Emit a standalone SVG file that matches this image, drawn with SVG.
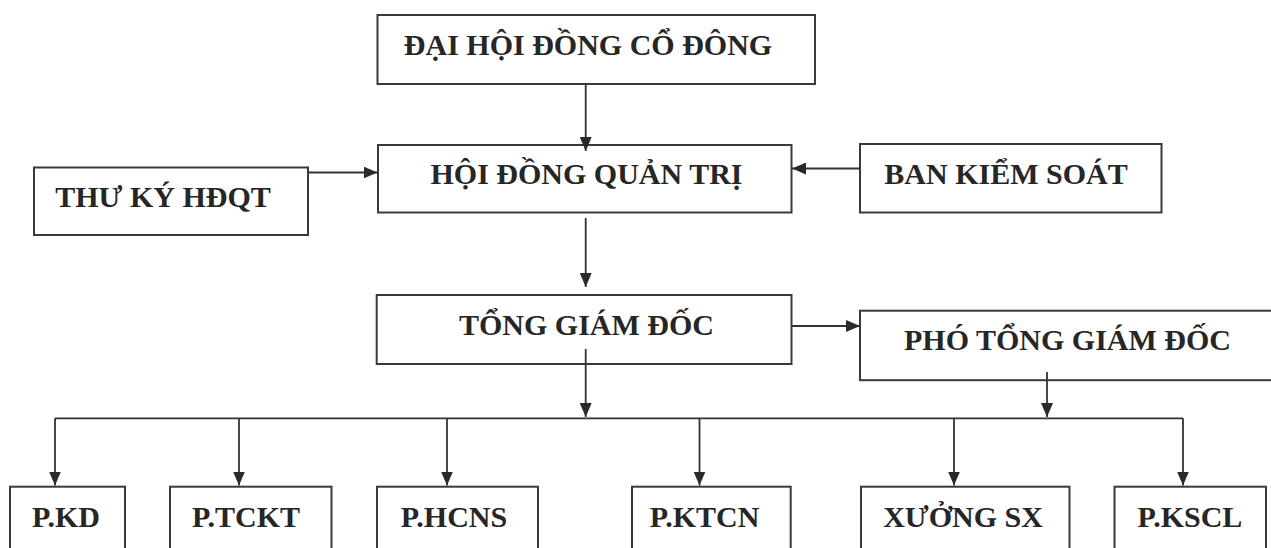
<svg xmlns="http://www.w3.org/2000/svg" width="1271" height="548" viewBox="0 0 1271 548">
<style>
.box{fill:#ffffff;stroke:#3a3a3a;stroke-width:2}
.lbl{font-family:"Liberation Serif","Times New Roman",serif;font-weight:bold;font-size:30px;fill:#262626;text-anchor:middle}
.con{fill:none;stroke:#333333;stroke-width:1.8}
</style>
<defs>
<marker id="ah" viewBox="0 0 14 12" refX="14" refY="6" markerWidth="14" markerHeight="12" markerUnits="userSpaceOnUse" orient="auto">
<path d="M0,0 L14,6 L0,12 z" fill="#2a2a2a"/>
</marker>
</defs>
<rect width="1271" height="548" fill="#ffffff"/>
<g id="dhdcd">
<rect class="box" x="377.5" y="15" width="437.5" height="69"/>
<text class="lbl" x="588" y="55">ĐẠI HỘI ĐỒNG CỔ ĐÔNG</text>
</g>
<g id="hdqt">
<rect class="box" x="378" y="145" width="413.5" height="67.5"/>
<text class="lbl" x="586.5" y="184">HỘI ĐỒNG QUẢN TRỊ</text>
</g>
<g id="thuky">
<rect class="box" x="34" y="167.5" width="274" height="67.5"/>
<text class="lbl" x="163" y="206.5">THƯ KÝ HĐQT</text>
</g>
<g id="bks">
<rect class="box" x="860" y="144" width="301.5" height="68.5"/>
<text class="lbl" x="1006" y="183.5">BAN KIỂM SOÁT</text>
</g>
<g id="tgd">
<rect class="box" x="376.7" y="295" width="414.8" height="69"/>
<text class="lbl" x="586.5" y="335">TỔNG GIÁM ĐỐC</text>
</g>
<g id="ptgd">
<rect class="box" x="860" y="310.7" width="420" height="69.5"/>
<text class="lbl" x="1067.5" y="350">PHÓ TỔNG GIÁM ĐỐC</text>
</g>
<g id="pkd">
<rect class="box" x="10" y="486.7" width="115" height="80"/>
<text class="lbl" x="66" y="527">P.KD</text>
</g>
<g id="ptckt">
<rect class="box" x="170" y="486.7" width="161.5" height="80"/>
<text class="lbl" x="246" y="527">P.TCKT</text>
</g>
<g id="phcns">
<rect class="box" x="377" y="486.7" width="161" height="80"/>
<text class="lbl" x="454" y="527">P.HCNS</text>
</g>
<g id="pktcn">
<rect class="box" x="632" y="486.7" width="158.7" height="80"/>
<text class="lbl" x="704.5" y="527">P.KTCN</text>
</g>
<g id="xuong">
<rect class="box" x="861" y="486.7" width="208.5" height="80"/>
<text class="lbl" x="963" y="527">XƯỞNG SX</text>
</g>
<g id="pkscl">
<rect class="box" x="1114.5" y="486.7" width="151.5" height="80"/>
<text class="lbl" x="1190" y="527">P.KSCL</text>
</g>
<g id="connectors">
<path class="con" d="M585.7,84 V151" marker-end="url(#ah)"/>
<path class="con" d="M308,172.5 H377.5" marker-end="url(#ah)"/>
<path class="con" d="M860,168.5 H792" marker-end="url(#ah)"/>
<path class="con" d="M585.7,218 V287" marker-end="url(#ah)"/>
<path class="con" d="M791.5,326 H860" marker-end="url(#ah)"/>
<path class="con" d="M585.7,349 V417" marker-end="url(#ah)"/>
<path class="con" d="M1047,372 V417" marker-end="url(#ah)"/>
<path class="con" d="M55,418.3 H1183"/>
<path class="con" d="M55,418.3 V485.5" marker-end="url(#ah)"/>
<path class="con" d="M239,418.3 V485.5" marker-end="url(#ah)"/>
<path class="con" d="M447,418.3 V485.5" marker-end="url(#ah)"/>
<path class="con" d="M699.5,418.3 V485.5" marker-end="url(#ah)"/>
<path class="con" d="M954,418.3 V485.5" marker-end="url(#ah)"/>
<path class="con" d="M1183,418.3 V485.5" marker-end="url(#ah)"/>
</g>
</svg>
